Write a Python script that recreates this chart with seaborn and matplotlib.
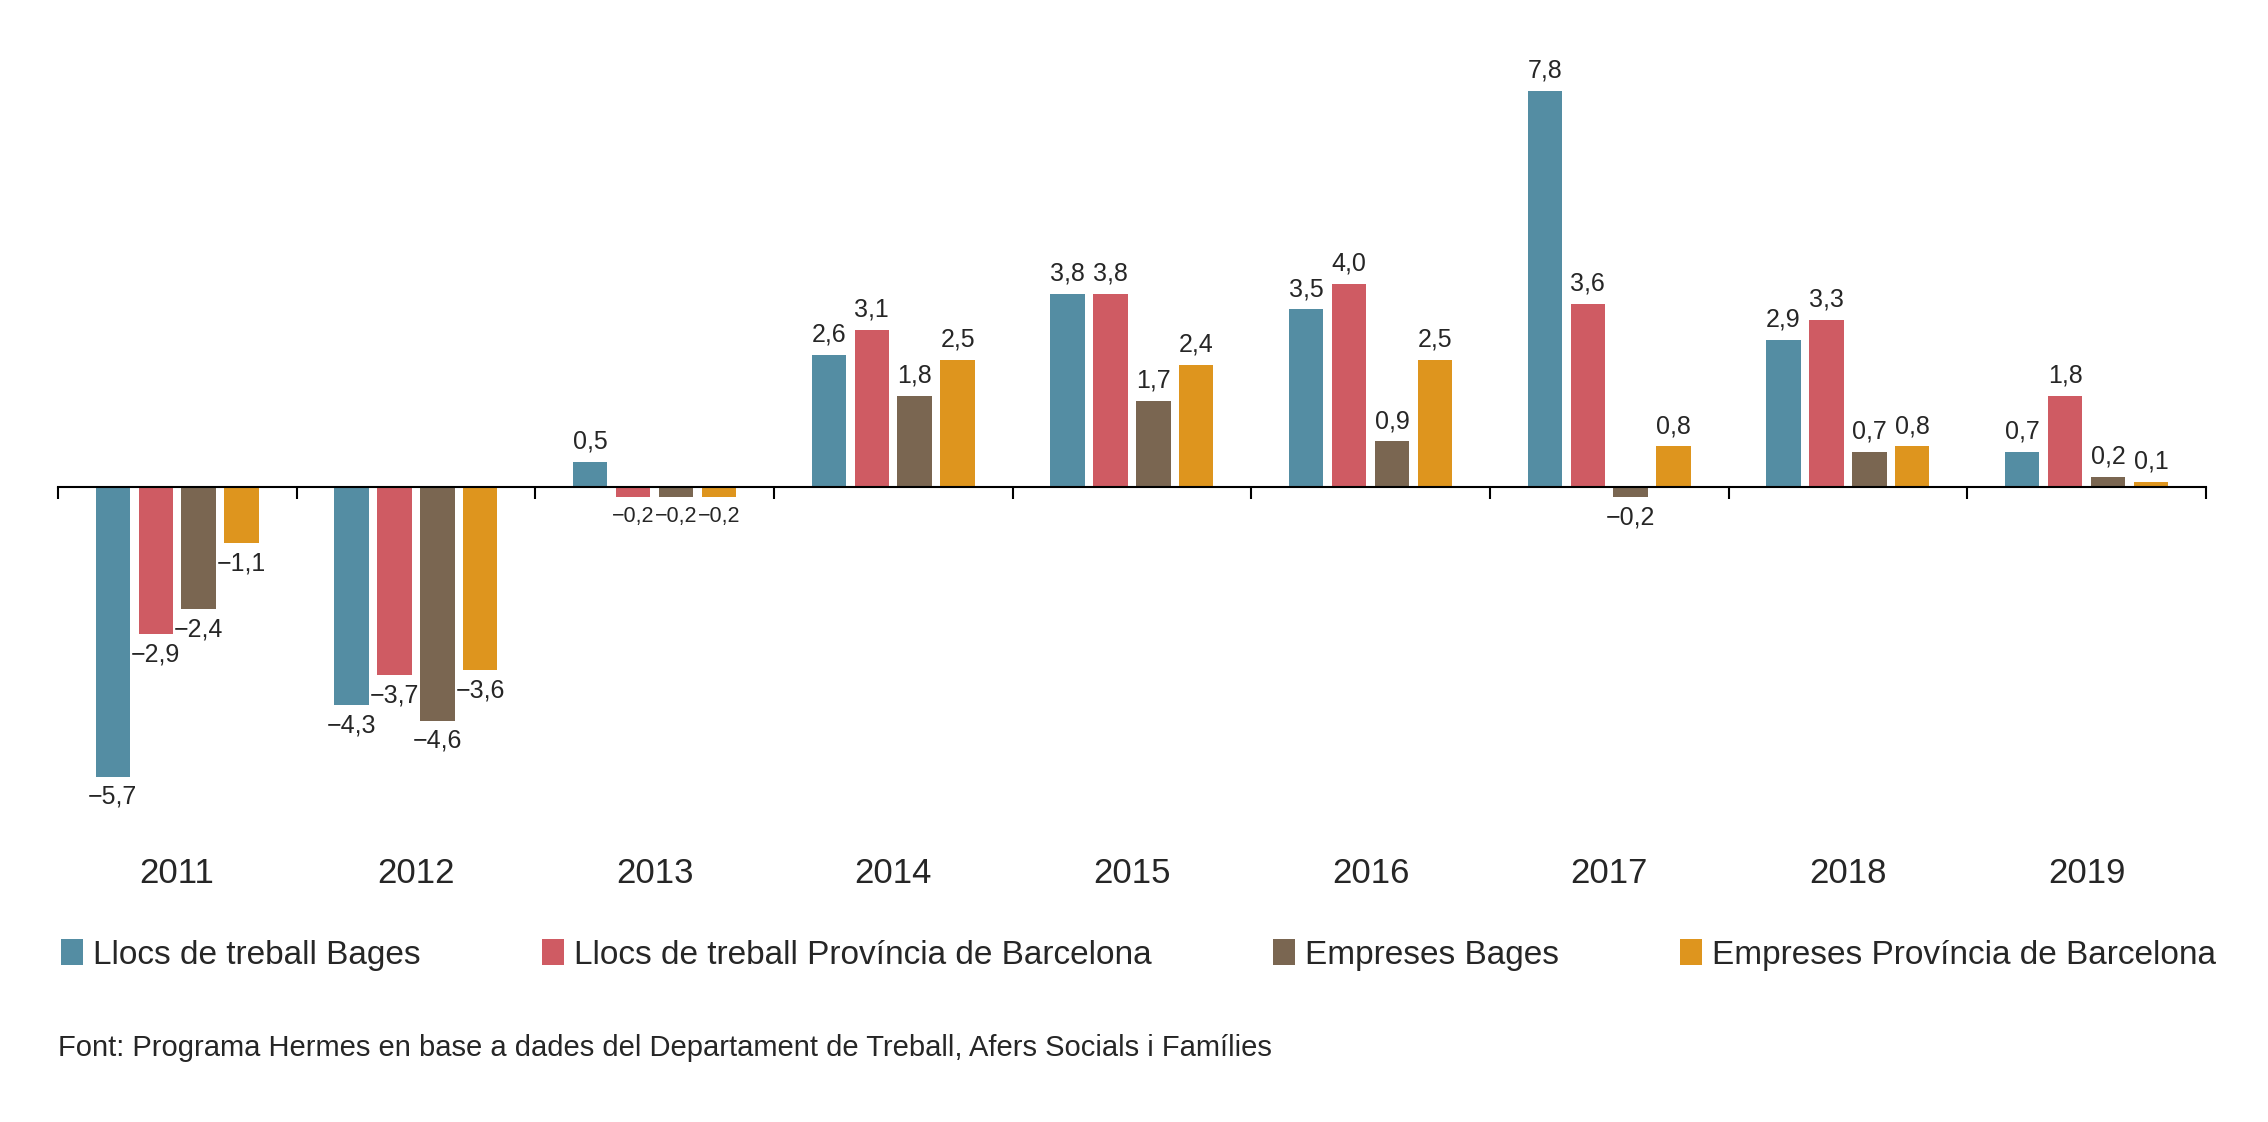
import seaborn as sns
import pandas as pd
import matplotlib.pyplot as plt

years = ['2011', '2012', '2013', '2014', '2015', '2016', '2017', '2018', '2019']
series = ['Llocs de treball Bages', 'Llocs de treball Província de Barcelona',
          'Empreses Bages', 'Empreses Província de Barcelona']
llocs_bages = [-5.7, -4.3, 0.5, 2.6, 3.8, 3.5, 7.8, 2.9, 0.7]
llocs_bcn = [-2.9, -3.7, -0.2, 3.1, 3.8, 4.0, 3.6, 3.3, 1.8]
empreses_bages = [-2.4, -4.6, -0.2, 1.8, 1.7, 0.9, -0.2, 0.7, 0.2]
empreses_bcn = [-1.1, -3.6, -0.2, 2.5, 2.4, 2.5, 0.8, 0.8, 0.1]
colors = ['#548DA3', '#CF5B63', '#7A6651', '#DE951E']
source = 'Font: Programa Hermes en base a dades del Departament de Treball, Afers Socials i Famílies'

values = [llocs_bages, llocs_bcn, empreses_bages, empreses_bcn]
rows = []
for name, vals in zip(series, values):
    for y, v in zip(years, vals):
        rows.append({'year': y, 'serie': name, 'value': v})
df = pd.DataFrame(rows)

sns.set_style('white')
plt.rcParams['font.family'] = ['Liberation Sans', 'DejaVu Sans']

fig = plt.figure(figsize=(22.68, 11.22), dpi=100)
ax = fig.add_axes([0.0255, 0.25, 0.9471, 0.71])

sns.barplot(data=df, x='year', y='value', hue='serie', palette=colors,
            width=0.72, gap=0.2, saturation=1, linewidth=0, ax=ax)

# value labels with decimal comma
for cont in ax.containers:
    labs = [f'{b.get_height():.1f}'.replace('.', ',').replace('-', '\u2212') for b in cont]
    texts = ax.bar_label(cont, labels=labs, padding=6, fontsize=18)
    # the three small negatives of 2013 sit side by side, shrink them a bit
    for i, t in enumerate(texts):
        if years[i] == '2013' and cont[i].get_height() < 0:
            t.set_fontsize(15.5)

ymin, ymax = -6.98, 8.71
ax.set_ylim(ymin, ymax)
ax.set_xlim(-0.5, 8.5)
ax.set_xlabel('')
ax.set_ylabel('')
ax.set_yticks([])
for s in ax.spines.values():
    s.set_visible(False)
ax.tick_params(axis='x', length=0, pad=11, labelsize=25)

# zero line with ticks between groups
zero_frac = (0 - ymin) / (ymax - ymin)
sec = ax.secondary_xaxis(zero_frac)
sec.set_zorder(5)
sec.set_xticks([i - 0.5 for i in range(len(years) + 1)])
sec.set_xticklabels([])
sec.tick_params(axis='x', direction='out', length=8.5, width=1.5, color='black')
sec.spines['bottom'].set_linewidth(1.5)
sec.spines['bottom'].set_color('black')

handles, labels = ax.get_legend_handles_labels()
ax.get_legend().remove()
fig.legend(handles, labels, loc='center left', bbox_to_anchor=(0.027, 0.149),
           ncol=4, frameon=False, fontsize=24, borderaxespad=0, borderpad=0,
           handlelength=0.65, handleheight=0.85, handletextpad=0.3, columnspacing=3.65)

fig.text(0.0255, 0.066, source, fontsize=21, va='center', ha='left')

fig.savefig('out.png', dpi=100)
